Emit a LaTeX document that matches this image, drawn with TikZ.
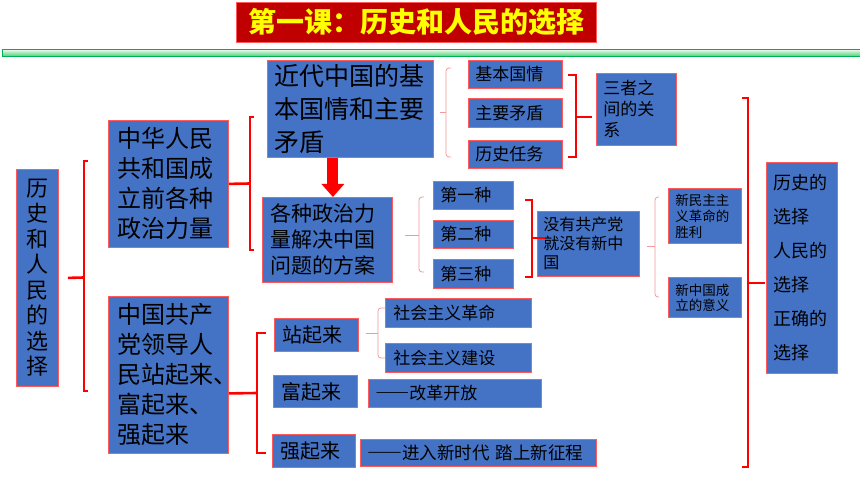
\documentclass[tikz,border=0pt]{standalone}
\usepackage{fontspec}
\setmainfont{Noto Sans CJK SC}
\usetikzlibrary{arrows.meta}
\definecolor{boxblue}{HTML}{4472C4}
\definecolor{boxline}{HTML}{FF5B5B}
\definecolor{brk}{HTML}{FF0000}
\definecolor{thinred}{HTML}{F29A9A}
\definecolor{titlered}{HTML}{C00000}
\definecolor{titletext}{HTML}{FFFF00}
\definecolor{bandline}{HTML}{00B050}
\definecolor{bandtop}{HTML}{DDF7E3}
\definecolor{bandbot}{HTML}{3CCB6A}
\newcommand\myfs[2]{\fontsize{#1pt}{#2pt}\selectfont}
\newcommand\wdash{{\bfseries\addfontfeatures{RawFeature=+fwid}——}}
\begin{document}
\begin{tikzpicture}[x=1pt,y=-1pt,
 box/.style={draw=boxline, line width=0.8pt, fill=boxblue, anchor=north west, inner sep=0pt, align=left, text=black},
 redbrk/.style={draw=brk, line width=2.6pt},
 thinbrk/.style={draw=thinred, line width=0.8pt, rounded corners=3pt},
]
\useasboundingbox (0,0) rectangle (860,484);
\fill[white] (0,0) rectangle (860,484);

% title
\node[draw=boxline, line width=0.8pt, fill=titlered, text=titletext, minimum width=360pt, minimum height=40pt, inner sep=0pt, anchor=north west, font=\myfs{28}{30}\bfseries] (title) at (236,2) {第一课：历史和人民的选择};

% green band
\shade[top color=bandtop, bottom color=bandbot] (2,50) rectangle (860,57);
\draw[bandline, line width=1pt] (2,50) rectangle (860,57);

% left column
\node[box, minimum width=42pt, minimum height=217pt, text width=22pt, font=\myfs{22}{25.5}] (root) at (16,169) {历\\史\\和\\人\\民\\的\\选\\择};
\node[box, minimum width=120pt, minimum height=127pt, text width=102pt, font=\myfs{24}{30}] (pre) at (108,120) {中华人民\\共和国成\\立前各种\\政治力量};
\node[box, minimum width=120pt, minimum height=157pt, text width=102pt, font=\myfs{24}{30}] (cpc) at (108,296) {中国共产\\党领导人\\民站起来、\\富起来、\\强起来};

% upper middle
\node[box, minimum width=166pt, minimum height=97pt, text width=152pt, font=\myfs{25}{33}] (cond) at (267,60) {近代中国的基\\本国情和主要\\矛盾};
\node[box, minimum width=130pt, minimum height=85pt, text width=114pt, font=\myfs{21}{26}] (plan) at (262,197) {各种政治力\\量解决中国\\问题的方案};

\node[box, minimum width=94pt, minimum height=28pt, text width=80pt, font=\myfs{17}{20}] (e1) at (468,60) {基本国情};
\node[box, minimum width=94pt, minimum height=29pt, text width=80pt, font=\myfs{17}{20}] (e2) at (468,98) {主要矛盾};
\node[box, minimum width=94pt, minimum height=28pt, text width=80pt, font=\myfs{17}{20}] (e3) at (468,140) {历史任务};
\node[box, minimum width=80pt, minimum height=72pt, text width=66pt, font=\myfs{17}{21}] (rel) at (596,73) {三者之\\间的关\\系};

\node[box, minimum width=80pt, minimum height=28pt, text width=66pt, font=\myfs{17}{20}] (g1) at (433,181) {第一种};
\node[box, minimum width=80pt, minimum height=28pt, text width=66pt, font=\myfs{17}{20}] (g2) at (433,220) {第二种};
\node[box, minimum width=80pt, minimum height=29pt, text width=66pt, font=\myfs{17}{20}] (g3) at (433,259) {第三种};
\node[box, minimum width=102pt, minimum height=65pt, text width=90pt, font=\myfs{16}{19}] (noparty) at (537,211) {没有共产党\\就没有新中\\国};

\node[box, minimum width=73pt, minimum height=55pt, text width=59pt, font=\myfs{13.5}{16}] (i1) at (668,188) {新民主主\\义革命的\\胜利};
\node[box, minimum width=73pt, minimum height=40pt, text width=59pt, font=\myfs{13.5}{15}] (i2) at (668,277) {新中国成\\立的意义};

\node[box, minimum width=71pt, minimum height=211pt, text width=57pt, font=\myfs{18}{34}] (choice) at (766,162) {历史的\\选择\\人民的\\选择\\正确的\\选择};

% lower middle
\node[box, minimum width=84pt, minimum height=33pt, text width=68pt, font=\myfs{20}{24}] (stand) at (274,318) {站起来};
\node[box, minimum width=84pt, minimum height=32pt, text width=68pt, font=\myfs{20}{24}] (rich) at (273,375) {富起来};
\node[box, minimum width=83pt, minimum height=33pt, text width=67pt, font=\myfs{20}{24}] (strong) at (272,434) {强起来};

\node[box, minimum width=146pt, minimum height=29pt, text width=130pt, font=\myfs{17}{20}] (rev) at (385,298) {社会主义革命};
\node[box, minimum width=146pt, minimum height=29pt, text width=130pt, font=\myfs{17}{20}] (build) at (385,343) {社会主义建设};
\node[box, minimum width=173pt, minimum height=28pt, text width=159pt, font=\myfs{17}{20}] (reform) at (368,379) {\wdash 改革开放};
\node[box, minimum width=236pt, minimum height=27pt, text width=222pt, font=\myfs{17.5}{20}] (newera) at (360,439) {\wdash 进入新时代 踏上新征程};

% big arrow
\draw[brk, line width=11pt, -{Triangle[width=22pt,length=13pt]}] ([xshift=-17.5pt]cond.south) -- ([xshift=5.5pt]plan.north);

% thick red brackets
\draw[redbrk] (88,161) -- (84,161) -- (84,391) -- (88,391);
\draw[redbrk] ([xshift=9pt]root.east) -- (84,277.5);

\draw[redbrk] (254,117) -- (250,117) -- (250,250) -- (254,250);
\draw[redbrk] (pre.east) -- (250,183.5);

\draw[redbrk] (266,333) -- (257,333) -- (257,453) -- (266,453);
\draw[redbrk] ([yshift=-18.5pt]cpc.east) -- (257,393);

\draw[redbrk] (568,75) -- (576,75) -- (576,157) -- (568,157);
\draw[redbrk] (576,117) -- (592,117);

\draw[redbrk] (525,200) -- (532,200) -- (532,277) -- (525,277);
\draw[redbrk] (532,238) -- (545,238);

\draw[redbrk] (742,98) -- (748,98) -- (748,467) -- (742,467);
\draw[redbrk] (748,283) -- (765,283);

% thin brackets
\draw[thinbrk] (451,68) -- (446,68) -- (446,157) -- (451,157);
\draw[thinbrk] (440,112) -- (446,112);

\draw[thinbrk] (424,197) -- (419,197) -- (419,272) -- (424,272);
\draw[thinbrk] (405,235) -- (419,235);

\draw[thinbrk] (659,197) -- (655,197) -- (655,297) -- (659,297);
\draw[thinbrk] (647,246) -- (655,246);

\draw[thinbrk] (385,308) -- (378,308) -- (378,358) -- (385,358);
\draw[thinbrk] (366,333) -- (378,333);
\end{tikzpicture}
\end{document}
